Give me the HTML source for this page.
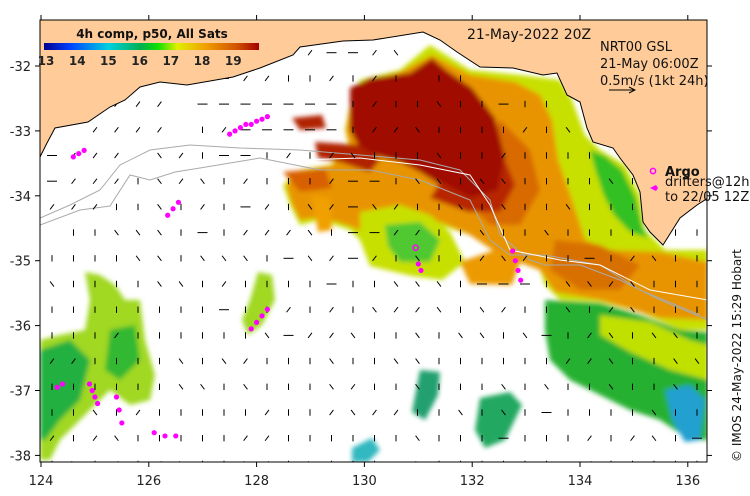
<!DOCTYPE html>
<html><head><meta charset="utf-8"><style>
html,body{margin:0;padding:0;background:#fff;width:750px;height:496px;overflow:hidden}
svg text{font-family:"DejaVu Sans","Liberation Sans",sans-serif}
</style></head><body>
<svg id="map" width="750" height="496" viewBox="0 0 750 496" xmlns="http://www.w3.org/2000/svg">
<defs>
<clipPath id="plotclip"><rect x="40" y="20" width="667" height="442"/></clipPath>
<filter id="soft"><feGaussianBlur stdDeviation="2.5"/></filter>
<linearGradient id="cbar" x1="0" x2="1" y1="0" y2="0">
<stop offset="0" stop-color="#00008f"/><stop offset="0.12" stop-color="#0040ff"/><stop offset="0.3" stop-color="#00d0e0"/><stop offset="0.45" stop-color="#00b050"/><stop offset="0.53" stop-color="#10e000"/><stop offset="0.62" stop-color="#e0f000"/><stop offset="0.75" stop-color="#f0a000"/><stop offset="0.9" stop-color="#d05000"/><stop offset="1" stop-color="#a00000"/>
</linearGradient>
</defs>
<g clip-path="url(#plotclip)">
<g id="sst" filter="url(#soft)">
<polygon fill="#c8e000" points="430,45 470,70 520,75 560,80 572,100 585,135 600,150 625,165 640,195 645,230 665,250 708,250 708,330 680,330 640,312 600,302 560,300 545,285 540,270 500,255 470,235 440,225 410,230 380,245 360,240 350,230 320,220 300,225 290,205 283,185 300,170 330,165 350,150 345,130 350,105 360,80 400,70"/>
<polygon fill="#30c020" points="590,150 605,156 622,170 636,198 642,226 648,238 630,232 614,215 604,196 596,172"/>
<polygon fill="#e89400" points="432,55 470,75 515,82 540,95 552,120 558,160 572,200 585,240 610,250 660,252 708,262 708,320 660,318 600,300 555,292 540,270 500,255 470,235 440,222 405,225 380,240 350,226 320,217 300,220 292,204 286,185 300,172 332,165 350,150 346,130 350,105 362,82 400,72"/>
<polygon fill="#d86a00" points="500,120 530,150 540,190 520,225 490,225 470,205 480,160"/>
<polygon fill="#a01000" points="350,88 370,78 410,73 432,58 446,70 472,88 495,118 505,158 498,192 470,200 442,186 420,172 400,162 362,152 350,130"/>
<polygon fill="#b82800" points="440,182 470,198 498,190 505,160 515,185 500,212 468,212 430,198"/>
<polygon fill="#b02000" points="292,118 322,115 326,128 300,130"/>
<polygon fill="#b02000" points="315,142 360,145 380,160 370,172 340,162 318,158"/>
<polygon fill="#d86000" points="283,172 325,168 332,188 300,192"/>
<polygon fill="#f0a000" points="312,196 330,198 332,230 318,232"/>
<polygon fill="#c8e000" points="360,212 400,205 430,215 450,232 465,262 442,280 412,276 395,272 370,266 360,240"/>
<polygon fill="#50c830" points="385,225 420,222 440,240 430,262 400,262 388,246"/>
<polygon fill="#ec9a00" points="460,262 495,250 520,262 512,285 470,284"/>
<polygon fill="#d87000" points="555,240 600,245 640,265 620,290 580,290 550,270"/>
<polygon fill="#28b030" points="545,300 600,303 640,315 680,330 708,332 708,440 690,440 660,420 630,410 600,395 570,380 550,360 545,330"/>
<polygon fill="#c0e000" points="600,315 650,322 690,340 708,345 708,380 670,370 630,352 600,335"/>
<polygon fill="#20a0d0" points="665,390 690,385 705,400 700,440 685,442 672,420"/>
<polygon fill="#a0d820" points="40,340 60,335 85,330 90,300 85,272 100,275 115,285 125,300 140,300 145,340 155,375 150,400 130,405 110,390 100,400 80,420 60,440 50,460 40,460"/>
<polygon fill="#20b040" points="40,350 70,340 90,360 80,400 60,420 45,440 40,440"/>
<polygon fill="#30b830" points="110,330 135,325 140,360 120,380 105,370"/>
<polygon fill="#a0d820" points="258,272 272,275 275,300 262,325 248,335 242,320 250,300"/>
<polygon fill="#20a860" points="480,398 510,392 522,405 505,440 485,448 475,430"/>
<polygon fill="#20a070" points="420,370 440,372 438,395 425,420 412,412"/>
<polygon fill="#30b8c0" points="352,448 372,438 380,450 368,462 352,462"/>
</g>
<g fill="none" stroke-width="1">
<polyline stroke="#aaa" points="40,218 70,205 100,190 120,165 150,150 190,145 240,148 300,150 360,155 420,160 460,170 490,200 500,235 530,260 545,265 580,265 620,280 660,300 708,320"/>
<polyline stroke="#aaa" points="40,225 80,210 110,206 130,175 150,180 175,172 200,168 260,158 320,170 370,170 420,180 470,200 490,240 510,255 545,255 600,265 640,290 700,315"/>
<polyline stroke="#fff" points="300,160 360,158 420,165 470,175 490,205 510,250 560,260 600,265 650,290 708,300"/>
</g>
<g id="vectors" stroke="#000" stroke-width="1"></g>
<g id="drifters" fill="#ff00ff"></g>
<path fill="#ffcc99" stroke="#000" stroke-width="1" d="M40,20 L708,20 L708,198 L697,205 L680,218 L663,245 L650,232 L643,222 L640,192 L633,175 L620,158 L613,148 L593,142 L587,128 L580,102 L567,95 L557,73 L543,75 L513,68 L480,67 L457,52 L440,40 L423,32 L373,40 L343,41 L300,47 L293,55 L260,68 L233,77 L187,85 L160,82 L140,87 L125,100 L110,107 L88,122 L55,128 L47,143 L40,157 Z"/>
</g>
<rect x="40" y="20" width="667" height="442" fill="none" stroke="#000" stroke-width="1"/>
<g id="axes" font-size="13" fill="#222"></g>
<g>
<text x="152" y="38" font-size="12" font-weight="bold" text-anchor="middle" fill="#111">4h comp, p50, All Sats</text>
<rect x="44" y="43" width="215" height="7" fill="url(#cbar)"/>
<g id="cbticks" font-size="12" font-weight="bold" fill="#222"></g>
</g>
<text x="467" y="39" font-size="14" fill="#111">21-May-2022 20Z</text>
<text x="600" y="51" font-size="13" fill="#111">NRT00 GSL</text>
<text x="600" y="68" font-size="13" fill="#111">21-May 06:00Z</text>
<text x="600" y="85" font-size="13" fill="#111">0.5m/s (1kt 24h)</text>
<g stroke="#000" fill="none"><line x1="609" y1="90" x2="635" y2="90"/><polyline points="629,87 635,90 629,93"/></g>
<circle cx="653" cy="171" r="2.6" fill="none" stroke="#ff00ff" stroke-width="1.5"/>
<text x="665" y="176" font-size="13" font-weight="bold" fill="#111">Argo</text>
<polygon points="650,188 656,185 658,188 656,191" fill="#ff00ff"/>
<text x="665" y="186" font-size="13" fill="#111">drifters@12h</text>
<text x="665" y="201" font-size="13" fill="#111">to 22/05 12Z</text>
<text transform="translate(741,462) rotate(-90)" font-size="12" fill="#111">© IMOS 24-May-2022 15:29 Hobart</text>
</svg>
<script>
const lonTicks=[124,126,128,130,132,134,136];
const latTicks=[-32,-33,-34,-35,-36,-37,-38];
const cbTicks=[13,14,15,16,17,18,19];
// current vector directions per grid row: n=vertical, e=horizontal, r=/ , l=\ , .=none
const vecRows=[
"..............................",
".........nr.reerl.............",
"...rr.rnerrnnrnrn.nn...........",
"..rrrr.eeeeeeenrnnlnnenn.n.....",
"..rrrr.nreeeeenrrlnnnnrnln.....",
"errr.lrneenrnrlnnnlnnrnnnn.....",
"errrnlrlnrnnnreenllnllnnnnln...",
"rrrnnlnrnernlrelrnnlnlnnlnnnn..",
".nnlllnenrrrlneerrnnlnnlnnnnlnn",
"nnnnllnlllnelrernlnnrlrnnenrlnn",
"lnnnnllnrnnnnennlllneeenllrlnnn",
"nnnnnnnnennrnrnlrrlnlrnnlnrlnnn",
"nnnrnnnnnnlerrlnnlnllnlenrlnlln",
"rrnnnnlnlrnnnlnnllnnnnnnrrlnnll",
"nnnnnnllnlnnnlrnnlnnnlnlnnlnnln",
"nnlnrnnnnnrnnrlrrnnlnlnennnnlnn",
"rnrlnnnnnrrnnnnnnlnnnennnrnrlne",
"nlnrnrlnnlrnlnnnelnnnnnnernnnnn"
];
const argoLon=[130.95];
const argoLat=[-34.8];
const drifterLon=[124.6,124.7,124.8,127.5,127.6,127.7,127.8,127.9,128.0,128.1,128.2,126.35,126.45,126.55,127.9,128.0,128.1,128.2,124.3,124.4,124.9,124.95,125.0,125.05,125.4,125.45,125.5,126.1,126.3,126.5,132.75,132.8,132.85,132.9,131.0,131.05];
const drifterLat=[-33.4,-33.35,-33.3,-33.05,-33.0,-32.95,-32.9,-32.9,-32.85,-32.82,-32.78,-34.3,-34.2,-34.1,-36.05,-35.95,-35.85,-35.75,-36.95,-36.9,-36.9,-37.0,-37.1,-37.2,-37.1,-37.3,-37.5,-37.65,-37.7,-37.7,-34.85,-35.0,-35.15,-35.3,-35.05,-35.15];

const NS='http://www.w3.org/2000/svg';
const xOf=lon=>41+(lon-124)*53.9;
const yOf=lat=>66+(-32-lat)*64.9;
function mk(tag,attrs,parent){const e=document.createElementNS(NS,tag);for(const k in attrs)e.setAttribute(k,attrs[k]);parent.appendChild(e);return e;}

const axes=document.getElementById('axes');
lonTicks.forEach(v=>{
  const x=xOf(v);
  const t=mk('line',{x1:x,y1:462,x2:x,y2:467,stroke:'#000'},axes);
  
  
  const t2=mk('line',{x1:x,y1:20,x2:x,y2:15,stroke:'#000'},axes);
  
  
  const l=mk('text',{x:x,y:485,'text-anchor':'middle'},axes);l.textContent=v;
  
  
});
latTicks.forEach(v=>{
  const y=yOf(v);
  const t=mk('line',{x1:35,y1:y,x2:40,y2:y,stroke:'#000'},axes);
  
  
  const t2=mk('line',{x1:707,y1:y,x2:712,y2:y,stroke:'#000'},axes);
  
  
  const l=mk('text',{x:31,y:y+5,'text-anchor':'end'},axes);l.textContent=v;
  
  
});
const cb=document.getElementById('cbticks');
cbTicks.forEach(v=>{
  const x=46+(v-13)*31.2;
  const l=mk('text',{x:x,y:65,'text-anchor':'middle'},cb);l.textContent=v;
  
  
});
const vg=document.getElementById('vectors');
const dirs={n:[0,1],e:[1,0],r:[0.6,-0.8],l:[0.6,0.8]};
vecRows.forEach((row,ri)=>{
  const y=27+ri*25.7;
  for(let ci=0;ci<row.length;ci++){
    const c=row[ci];if(!dirs[c])continue;
    const x=52+ci*21.5;const d=dirs[c];const h=c==='e'?5:3.2;
    const ln=mk('line',{x1:x-d[0]*h,y1:y-d[1]*h,x2:x+d[0]*h,y2:y+d[1]*h},vg);
    
    
  }
});
const dg=document.getElementById('drifters');
drifterLon.forEach((lon,i)=>{
  const p=mk('circle',{cx:xOf(lon),cy:yOf(drifterLat[i]),r:2.6},dg);
  
  
});
argoLon.forEach((lon,i)=>{
  const c=mk('circle',{cx:xOf(lon),cy:yOf(argoLat[i]),r:2.6,fill:'none',stroke:'#ff00ff','stroke-width':1.5},dg);
  
  
});
</script>
</body></html>
